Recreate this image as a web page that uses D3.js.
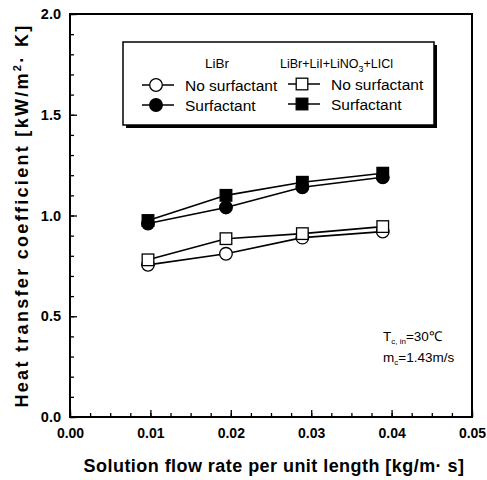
<!DOCTYPE html>
<html><head><meta charset="utf-8">
<script src="https://cdn.jsdelivr.net/npm/d3@7"></script>
<style>body{margin:0;background:#fff;} text{font-family:"Liberation Sans",Arial,sans-serif;fill:#000;}</style>
</head><body><svg id="c" width="487" height="480"></svg>
<script>
const flowRate = [0.0097, 0.0194, 0.0289, 0.0389];
const libNoSurf = [0.755, 0.81, 0.89, 0.92];
const libSurf = [0.96, 1.04, 1.14, 1.19];
const mixNoSurf = [0.78, 0.885, 0.91, 0.945];
const mixSurf = [0.975, 1.10, 1.165, 1.21];
const xTicks = [0, 0.01, 0.02, 0.03, 0.04, 0.05];
const yTicks = [0, 0.5, 1.0, 1.5, 2.0];

const svg = d3.select("#c");
const L = 70, R = 472, T = 14, B = 417;
const x = d3.scaleLinear().domain([0, 0.05]).range([L, R]);
const y = d3.scaleLinear().domain([0, 2]).range([B, T]);

// frame
svg.append("rect").attr("x", L).attr("y", T).attr("width", R - L).attr("height", B - T)
  .attr("fill", "none").attr("stroke", "#000").attr("stroke-width", 2);

// axes
const xAx = d3.axisBottom(x).tickValues(xTicks).tickFormat(d3.format(".2f")).tickSizeInner(-7).tickSizeOuter(0).tickPadding(11);
const gx = svg.append("g").attr("transform", `translate(0,${B})`).call(xAx);
gx.select(".domain").remove();
gx.selectAll("text").attr("font-size", 14).attr("font-weight", "bold").attr("fill", "#000");
svg.append("g").attr("transform", `translate(0,${B})`)
  .call(d3.axisBottom(x).tickValues(d3.range(0, 0.0501, 0.0025)).tickFormat("").tickSizeInner(-4).tickSizeOuter(0))
  .select(".domain").remove();

const yAx = d3.axisLeft(y).tickValues(yTicks).tickFormat(d3.format(".1f")).tickSizeInner(-7).tickSizeOuter(0).tickPadding(9);
const gy = svg.append("g").attr("transform", `translate(${L},0)`).call(yAx);
gy.select(".domain").remove();
gy.selectAll("text").attr("font-size", 14.5).attr("font-weight", "bold").attr("fill", "#000");
svg.append("g").attr("transform", `translate(${L},0)`)
  .call(d3.axisLeft(y).tickValues(d3.range(0, 2.001, 0.1)).tickFormat("").tickSizeInner(-4).tickSizeOuter(0))
  .select(".domain").remove();
svg.selectAll(".tick line").attr("stroke", "#000").attr("stroke-width", 1.3);

// titles
svg.append("text").attr("x", (L + R) / 2 + 3).attr("y", 472).attr("text-anchor", "middle")
  .attr("font-size", 18).attr("letter-spacing", 0.45).attr("font-weight", "bold")
  .text("Solution flow rate per unit length [kg/m·  s]");
const yt = svg.append("text").attr("transform", `translate(28,${(T + B) / 2}) rotate(-90)`)
  .attr("text-anchor", "middle").attr("font-size", 18).attr("letter-spacing", 2.3).attr("font-weight", "bold");
yt.append("tspan").text("Heat transfer coefficient [kW/m");
yt.append("tspan").attr("dy", -7).attr("font-size", 11).text("2");
yt.append("tspan").attr("dy", 7).text("·  K]");

// series
const series = [
  {v: libNoSurf, shape: "circle", fill: "#fff"},
  {v: libSurf, shape: "circle", fill: "#000"},
  {v: mixNoSurf, shape: "square", fill: "#fff"},
  {v: mixSurf, shape: "square", fill: "#000"}
];
const line = d3.line().x((d, i) => x(flowRate[i])).y(d => y(d));
series.forEach(s => {
  svg.append("path").attr("d", line(s.v)).attr("fill", "none").attr("stroke", "#000").attr("stroke-width", 1.6);
});
function marker(g, shape, fill, cx, cy) {
  if (shape === "circle") g.append("circle").attr("cx", cx).attr("cy", cy).attr("r", 6.3)
    .attr("fill", fill).attr("stroke", "#000").attr("stroke-width", 1.3);
  else g.append("rect").attr("x", cx - 5.8).attr("y", cy - 5.8).attr("width", 11.6).attr("height", 11.6)
    .attr("fill", fill).attr("stroke", "#000").attr("stroke-width", 1.3);
}
series.forEach(s => {
  s.v.forEach((d, i) => marker(svg, s.shape, s.fill, x(flowRate[i]), y(d)));
});

// legend
const lg = svg.append("g");
lg.append("rect").attr("x", 126).attr("y", 45).attr("width", 311).attr("height", 83).attr("fill", "#000");
lg.append("rect").attr("x", 123).attr("y", 42).attr("width", 311).attr("height", 83)
  .attr("fill", "#fff").attr("stroke", "#000").attr("stroke-width", 1.5);
lg.append("text").attr("x", 217).attr("y", 68).attr("text-anchor", "middle").attr("font-size", 13.5).text("LiBr");
const mt = lg.append("text").attr("x", 280).attr("y", 68).attr("font-size", 12.5);
mt.append("tspan").text("LiBr+LiI+LiNO");
mt.append("tspan").attr("dy", 4).attr("font-size", 9).text("3");
mt.append("tspan").attr("dy", -4).text("+LICl");
const items = [
  {lx: 142, tx: 185, y: 85, shape: "circle", fill: "#fff", label: "No surfactant"},
  {lx: 142, tx: 185, y: 105, shape: "circle", fill: "#000", label: "Surfactant"},
  {lx: 288, tx: 331, y: 84, shape: "square", fill: "#fff", label: "No surfactant"},
  {lx: 288, tx: 331, y: 104, shape: "square", fill: "#000", label: "Surfactant"}
];
items.forEach(it => {
  lg.append("line").attr("x1", it.lx).attr("x2", it.lx + 32).attr("y1", it.y).attr("y2", it.y)
    .attr("stroke", "#000").attr("stroke-width", 1.5);
  marker(lg, it.shape, it.fill, it.lx + 14, it.y);
  lg.append("text").attr("x", it.tx).attr("y", it.y + 5.5).attr("font-size", 15.5).text(it.label);
});

// annotation
const a1 = svg.append("text").attr("x", 383).attr("y", 341).attr("font-size", 13.5);
a1.append("tspan").text("T");
a1.append("tspan").attr("dy", 3).attr("font-size", 8).text("c, in");
a1.append("tspan").attr("dy", -3).text("=30℃");
const a2 = svg.append("text").attr("x", 383).attr("y", 362).attr("font-size", 13.5);
a2.append("tspan").text("m");
a2.append("tspan").attr("dy", 3).attr("font-size", 8).text("c");
a2.append("tspan").attr("dy", -3).text("=1.43m/s");
</script></body></html>
